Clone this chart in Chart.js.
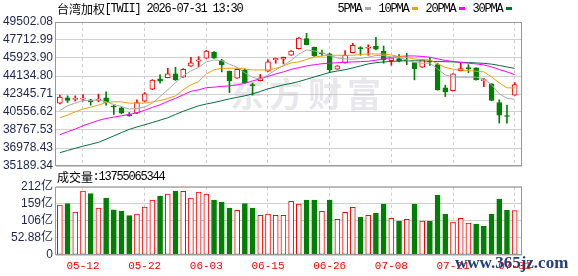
<!DOCTYPE html>
<html>
<head>
<meta charset="utf-8">
<script src="https://cdn.jsdelivr.net/npm/chart.js@4/dist/chart.umd.min.js"></script>
<style>
  html, body { margin: 0; padding: 0; background: #fff; }
  #wrap { position: relative; width: 578px; height: 276px; overflow: hidden; }
  #kline { position: absolute; left: 0; top: 0; }
  #vol { position: absolute; left: 0; top: 170px; }
</style>
</head>
<body>
<div id="wrap">
  <canvas id="kline" width="578" height="180"></canvas>
  <canvas id="vol" width="578" height="106"></canvas>
</div>
<script>
// ---------- DATOS ----------
const dates = ['05-07','05-08','05-11','05-12','05-13','05-14','05-15','05-18','05-19','05-20',
  '05-21','05-22','05-25','05-26','05-27','05-28','05-29','06-01','06-02','06-03',
  '06-04','06-05','06-08','06-09','06-10','06-11','06-12','06-15','06-16','06-17',
  '06-18','06-22','06-23','06-24','06-25','06-26','06-29','06-30','07-01','07-02',
  '07-03','07-06','07-07','07-08','07-09','07-10','07-13','07-14','07-15','07-16',
  '07-17','07-21','07-22','07-23','07-24','07-27','07-28','07-29','07-30','07-31'];

const openArr = [41440,41965,41807,41836,41767,41698,41965,41172,40974,40310,
  40449,41638,42827,43848,43977,44344,44017,45107,45602,45900,
  46524,45662,44611,43917,44740,43283,43680,44611,45731,45800,
  46197,46851,47842,46990,46395,46326,44809,45463,46455,46920,
  46890,47118,46593,45662,45860,45731,45463,45008,45582,45265,
  42956,42689,44671,44938,44938,43680,43353,41499,40181,42233];
const highArr = [42233,42163,42163,42292,41817,42332,42560,41222,41043,40508,
  41767,42490,43769,44245,44908,45008,44869,45999,46058,46673,
  46574,45800,44641,44839,44839,43442,44284,45731,45929,46028,
  46673,47961,48377,47019,46722,46395,45166,46653,47386,47049,
  47247,47981,47118,45949,46256,46395,45483,45751,45979,45404,
  43224,44364,45463,45265,44958,43898,43383,41767,41242,43481];
const lowArr = [41371,41499,41638,41638,41242,41569,41242,40310,40379,40131,
  40379,41589,42778,43422,43947,43699,43997,45087,45067,45880,
  45880,44542,42490,43897,43452,42233,43650,44591,45404,45335,
  46177,46821,47217,46078,46127,44472,44790,45404,46425,46197,
  46197,46722,45404,45206,45533,45265,43749,44988,45186,42728,
  42094,42659,44641,44472,43719,43085,41668,39458,39458,42213];
const closeArr = [42035,41698,41836,41866,41569,41836,41499,41043,40449,40181,
  41499,42362,43719,43620,44344,43749,44809,45434,45731,46623,
  45900,45265,43680,44809,43481,43154,43947,45533,45900,45999,
  46623,47911,47247,46127,46326,44740,45136,46197,47188,46851,
  46990,46791,45731,45929,45602,45632,44869,45731,45533,42758,
  42560,44344,44860,44869,43749,43740,41698,40251,40112,43283];

const ma5 = [40707,41172,41440,41698,41698,41767,41569,41301,41103,40845,
  40905,41043,41440,42094,42758,43481,44146,44641,44988,45533,
  45731,45650,45300,45000,44450,44000,43818,44245,44740,45186,
  45681,46326,46722,46623,46425,46177,45929,45830,45800,45880,
  45999,46177,46177,46028,45979,45731,45483,45404,45404,44839,
  44245,44047,44017,44017,44017,43848,43254,42362,41916,41817];
const ma10 = [39983,40251,40578,40845,41043,41242,41499,41569,41569,41440,
  41440,41440,41569,41698,41896,42163,42758,43254,43581,44344,
  44740,44908,44908,44908,44839,44740,44740,44740,44889,45136,
  45434,45533,45781,45999,46127,46197,46197,46197,46197,46276,
  46326,46326,46326,46227,46058,45979,45830,45751,45731,45335,
  44988,44809,44740,44671,44611,44542,44047,43452,42956,42956];
const ma20 = [38299,38596,38864,39191,39458,39716,39914,40053,40181,40310,
  40479,40726,41024,41272,41618,41916,42262,42609,42758,42976,
  43026,43105,43154,43254,43402,43650,43848,44096,44344,44542,
  44790,44958,45136,45255,45354,45414,45454,45503,45533,45563,
  45602,45701,45830,45979,46078,46127,46127,46078,45999,45830,
  45681,45582,45483,45404,45335,45236,45037,44790,44542,44275];
const ma30 = [36515,36733,36951,37159,37347,37545,37853,38180,38517,38824,
  39072,39290,39508,39745,39983,40310,40627,40905,41172,41351,
  41499,41678,41866,42015,42163,42352,42600,42857,43055,43254,
  43402,43581,43808,44037,44255,44493,44631,44760,44938,45136,
  45335,45454,45533,45582,45632,45652,45652,45632,45602,45572,
  45553,45533,45503,45473,45434,45394,45315,45186,45037,44889];

// volumen en 亿
const volume = [154.8,158.9,133.0,198.0,190.0,145.5,176.5,140.0,136.0,121.7,
  127.0,148.6,170.0,182.7,189.0,198.0,197.0,176.5,195.0,189.0,
  170.0,164.0,145.5,138.3,158.9,145.5,123.0,127.0,123.0,123.0,
  166.0,158.0,170.0,170.0,135.0,170.0,110.5,132.0,147.7,117.7,
  123.0,130.0,158.0,113.6,105.3,110.5,158.0,105.3,105.3,185.8,
  127.0,102.0,113.6,99.0,96.0,89.8,127.0,173.4,139.3,137.55];

const priceTicks = [35189.34,36978.43,38767.53,40556.62,42345.71,44134.80,45923.90,47712.99,49502.08];
const volTicks = [0,52.88,105.76,158.64,211.52];
const volTickLabels = ['0','52.88亿','106亿','159亿','212亿'];
const dateTickIdx = [3,11,19,27,35,43,51,59];

const maNames = ['5PMA','10PMA','20PMA','30PMA'];
const maColors = ['#a8a8a8','#f0a000','#ff00ff','#00703a'];
const titleText = '台湾加权[TWII] 2026-07-31 13:30';
const volTitle = '成交量:13755065344';

const RED = '#ff0000';
const GREEN = '#008000';

// ---------- AUXILIARES ----------
const idx = dates.map((d, i) => i);
const candleUp = closeArr.map((c, i) => c >= openArr[i]);
const volUp = closeArr.map((c, i) => i === 0 ? candleUp[0] : c >= closeArr[i - 1]);

// texto monoespaciado: CJK 12px, ASCII 6px
function drawMono(ctx, text, x, y, color) {
  ctx.save();
  ctx.fillStyle = color;
  ctx.textBaseline = 'middle';
  ctx.textAlign = 'center';
  for (const ch of text) {
    if (ch.charCodeAt(0) > 255) {
      ctx.font = '12px "Noto Sans CJK SC"';
      ctx.fillText(ch, x + 6, y);
      x += 12;
    } else {
      ctx.font = '12px "Liberation Mono"';
      ctx.fillText(ch, x + 3, y);
      x += 6;
    }
  }
  ctx.restore();
  return x;
}

function frame(chart) {
  const a = chart.chartArea, ctx = chart.ctx;
  ctx.save();
  ctx.strokeStyle = '#9a9a9a';
  ctx.lineWidth = 1;
  ctx.strokeRect(a.left - 0.5, a.top + 0.5, a.right - a.left, a.bottom - a.top - 1);
  ctx.restore();
}

function xScale(showLabels) {
  return {
    type: 'linear', min: -0.5, max: 59.95, offset: false, bounds: 'data',
    afterBuildTicks: s => { s.ticks = dateTickIdx.map(v => ({ value: v })); },
    afterFit: s => { s.height = showLabels ? 21 : 0; },
    grid: { color: '#cccccc', drawTicks: false, offset: false },
    border: { display: false, dash: [3, 3] },
    ticks: {
      display: showLabels, autoSkip: false, maxRotation: 0, padding: 4, color: RED,
      font: { family: 'Liberation Mono', size: 11 },
      callback: v => dates[v]
    }
  };
}

// ---------- GRÁFICA DE VELAS ----------
const klineText = {
  id: 'klineText',
  beforeDatasetsDraw(chart) {
    const ctx = chart.ctx;
    ctx.save();
    ctx.fillStyle = 'rgba(185,185,198,0.33)';
    ctx.font = 'bold 34px "Noto Sans CJK SC"';
    ctx.textAlign = 'center';
    ctx.textBaseline = 'middle';
    '东方财富'.split('').forEach((ch, k) => ctx.fillText(ch, 247 + k * 39, 94));
    ctx.restore();
  },
  afterDatasetsDraw(chart) { frame(chart); },
  afterDraw(chart) {
    const ctx = chart.ctx;
    drawMono(ctx, titleText, 57, 9, '#000');
    let x = 338;
    maNames.forEach((n, k) => {
      x = drawMono(ctx, n, x, 9, '#000') + 3;
      ctx.fillStyle = maColors[k];
      ctx.fillRect(x, 7, 6, 3);
      x += 6 + 8;
    });
  }
};

const maSets = [ma5, ma10, ma20, ma30].map((arr, k) => ({
  type: 'line',
  label: maNames[k],
  data: idx.map(i => ({ x: i, y: arr[i] })),
  borderColor: maColors[k],
  borderWidth: 1,
  pointRadius: 0,
  tension: 0,
  order: k
}));

new Chart(document.getElementById('kline'), {
  type: 'bar',
  data: {
    datasets: [
      ...maSets,
      {
        label: 'body',
        data: idx.map(i => ({ x: i, y: [openArr[i], closeArr[i]] })),
        backgroundColor: idx.map(i => candleUp[i] ? '#ffffff' : GREEN),
        borderColor: idx.map(i => candleUp[i] ? RED : GREEN),
        borderWidth: 1,
        borderSkipped: false,
        barThickness: 5,
        minBarLength: 1,
        grouped: false,
        order: 5
      },
      {
        label: 'wick',
        data: idx.map(i => ({ x: i, y: [lowArr[i], highArr[i]] })),
        backgroundColor: idx.map(i => candleUp[i] ? RED : GREEN),
        borderWidth: 0,
        barThickness: 1,
        grouped: false,
        order: 6
      }
    ]
  },
  options: {
    responsive: false,
    animation: false,
    devicePixelRatio: 1,
    events: [],
    layout: { padding: { left: 0, right: 56, top: 22, bottom: 14 } },
    plugins: { legend: { display: false }, tooltip: { enabled: false } },
    scales: {
      x: xScale(false),
      y: {
        type: 'linear', min: priceTicks[0], max: priceTicks[priceTicks.length - 1],
        afterBuildTicks: s => { s.ticks = priceTicks.map(v => ({ value: v })); },
        afterFit: s => { s.width = 56; },
        grid: { color: '#d0d0d0', drawTicks: false },
        border: { display: false },
        ticks: {
          padding: 3, autoSkip: false, color: '#1b2550',
          font: { family: 'Liberation Sans', size: 12 },
          callback: v => v.toFixed(2)
        }
      }
    }
  },
  plugins: [klineText]
});

// ---------- GRÁFICA DE VOLUMEN ----------
const volText = {
  id: 'volText',
  afterDatasetsDraw(chart) { frame(chart); },
  afterDraw(chart) {
    const ctx = chart.ctx;
    drawMono(ctx, volTitle, 57, 7, '#000');
    ctx.save();
    ctx.fillStyle = '#24407c';
    ctx.font = 'bold 17px "Liberation Serif"';
    ctx.textBaseline = 'alphabetic';
    ctx.fillText('www.365jz.com', 455, 98);
    ctx.restore();
  }
};

new Chart(document.getElementById('vol'), {
  type: 'bar',
  data: {
    datasets: [{
      label: '成交量',
      data: idx.map(i => ({ x: i, y: volume[i] })),
      backgroundColor: idx.map(i => volUp[i] ? '#ffffff' : GREEN),
      borderColor: idx.map(i => volUp[i] ? RED : GREEN),
      borderWidth: 1,
      borderSkipped: false,
      barThickness: 5,
      grouped: false
    }]
  },
  options: {
    responsive: false,
    animation: false,
    devicePixelRatio: 1,
    events: [],
    layout: { padding: { left: 0, right: 56, top: 16.7, bottom: 0 } },
    plugins: { legend: { display: false }, tooltip: { enabled: false } },
    scales: {
      x: xScale(true),
      y: {
        type: 'linear', min: 0, max: volTicks[volTicks.length - 1],
        afterBuildTicks: s => { s.ticks = volTicks.map(v => ({ value: v })); },
        afterFit: s => { s.width = 56; },
        grid: { color: '#d0d0d0', drawTicks: false },
        border: { display: false },
        ticks: {
          padding: 3, autoSkip: false, color: '#1b2550',
          font: { family: "'Liberation Sans', 'Noto Sans CJK SC'", size: 12 },
          callback: (v, i) => volTickLabels[i]
        }
      }
    }
  },
  plugins: [volText]
});
</script>
</body>
</html>
